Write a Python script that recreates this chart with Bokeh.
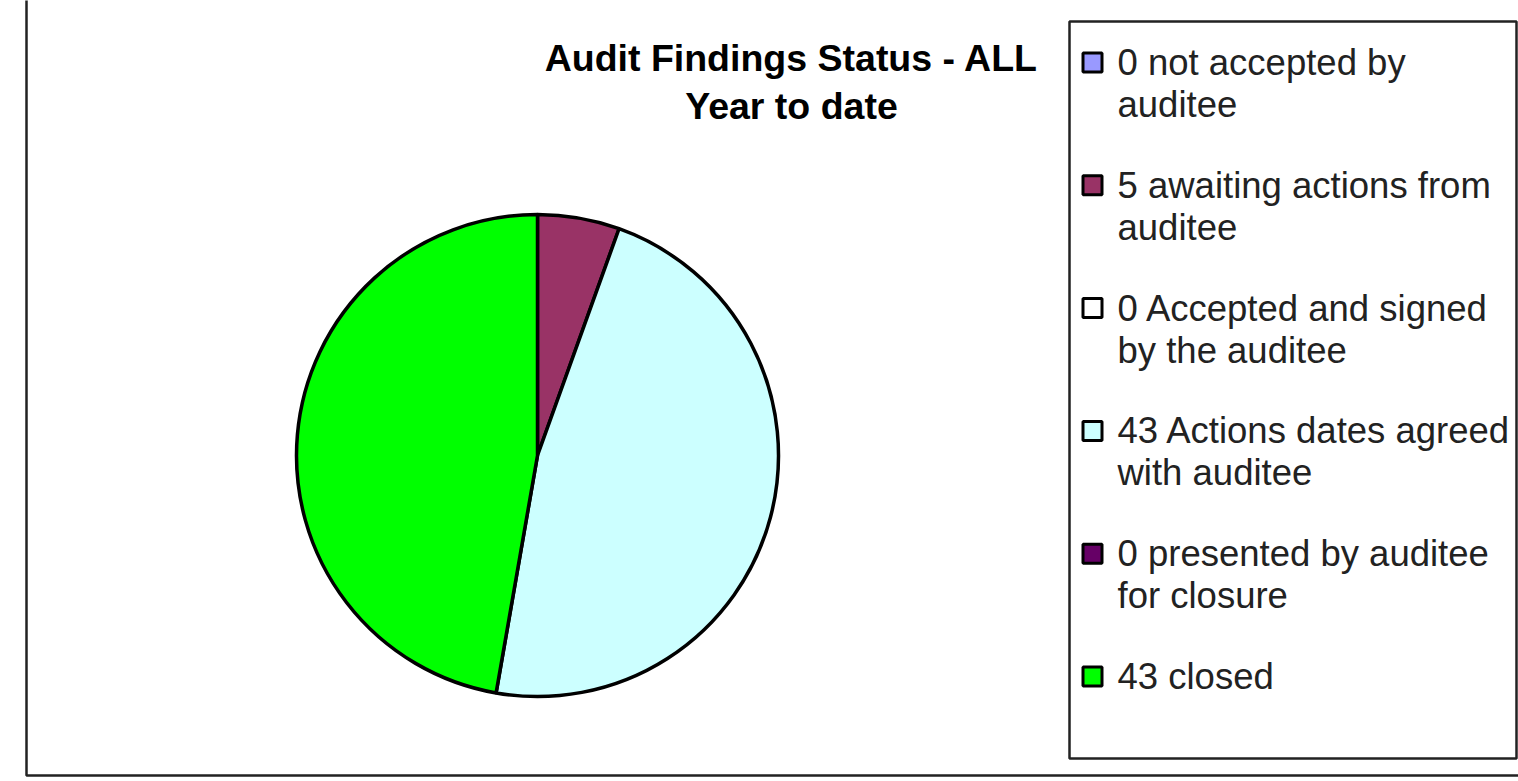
import math
from bokeh.plotting import figure
from bokeh.models import Range1d, ColumnDataSource
from bokeh.core.properties import value
from bokeh.embed import file_html
from bokeh.resources import INLINE

# ---- data ----
categories = [
    "0 not accepted by\nauditee",
    "5 awaiting actions from\nauditee",
    "0 Accepted and signed\nby the auditee",
    "43 Actions dates agreed\nwith auditee",
    "0 presented by auditee\nfor closure",
    "43 closed",
]
counts = [0, 5, 0, 43, 0, 43]
colors = ["#9999FF", "#993366", "#FFFFFF", "#CCFFFF", "#660066", "#00FF00"]
title_lines = ["Audit Findings Status - ALL", "Year to date"]

W, H = 1518, 781
FONT = "Liberation Sans"

p = figure(width=W, height=H, output_backend="svg", toolbar_location=None,
           x_range=Range1d(0, W), y_range=Range1d(0, H), min_border=0)
p.axis.visible = False
p.grid.visible = False
p.outline_line_color = None
p.background_fill_color = "white"
p.border_fill_color = "white"

def Y(py):
    return H - py

# outer chart frame (top and right edges lie just outside the visible area)
p.quad(left=[26], right=[1524], top=[Y(-4)], bottom=[Y(775)],
       fill_color=None, line_color="#222222", line_width=2.5)

# ---- pie ----
cx, cy, r = 537, Y(455), 241
total = sum(counts)
cum = 0
starts, ends, fills = [], [], []
for c, col in zip(counts, colors):
    a0 = math.pi / 2 - 2 * math.pi * cum / total
    cum += c
    a1 = math.pi / 2 - 2 * math.pi * cum / total
    if c > 0:
        starts.append(a0)
        ends.append(a1)
        fills.append(col)
src = ColumnDataSource(dict(x=[cx] * len(starts), y=[cy] * len(starts),
                            s=starts, e=ends, c=fills))
p.wedge(x="x", y="y", radius=r, start_angle="s", end_angle="e",
        direction="clock", fill_color="c", line_color="black", line_width=3.5,
        source=src)

# ---- title ----
p.text(x=[791, 791], y=[Y(57), Y(105)], text=title_lines,
       text_font=value(FONT), text_font_style="bold", text_font_size="37.5px",
       text_align="center", text_baseline="middle", text_color="black")

# ---- legend ----
p.quad(left=[1069], right=[1516], top=[Y(21)], bottom=[Y(758)],
       fill_color="white", line_color="#222222", line_width=2.5)
entry0, entry_step, line_step = 62, 122.8, 42
mx, my, tx, ty, tt = [], [], [], [], []
for i, lab in enumerate(categories):
    yy = entry0 + i * entry_step
    mx.append(1092)
    my.append(Y(yy))
    for j, line in enumerate(lab.split("\n")):
        tx.append(1117)
        ty.append(Y(yy + j * line_step))
        tt.append(line)
p.rect(x=mx, y=my, width=19, height=19, fill_color=colors,
       line_color="black", line_width=3)
p.text(x=tx, y=ty, text=tt, text_font=value(FONT), text_font_size="36.5px",
       text_align="left", text_baseline="middle", text_color="#222222")

open("out.html", "w").write(file_html(p, INLINE))
